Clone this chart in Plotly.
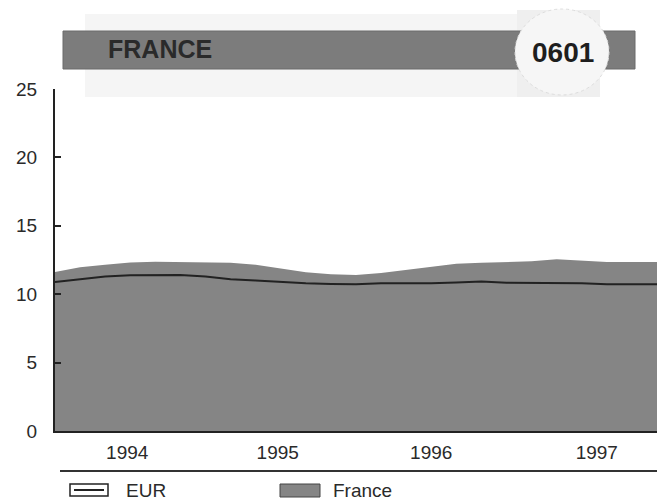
import plotly.graph_objects as go

# Data (bi-monthly readings, 1994-1997)
x_time = [1994 + k / 6 for k in range(25)]
france = [11.62, 11.97, 12.15, 12.32, 12.38, 12.36, 12.34, 12.29, 12.16, 11.88,
          11.60, 11.45, 11.40, 11.55, 11.78, 12.02, 12.22, 12.30, 12.36, 12.40,
          12.55, 12.45, 12.36, 12.35, 12.35]
eur = [10.89, 11.07, 11.30, 11.38, 11.40, 11.40, 11.30, 11.10, 11.01, 10.90,
       10.80, 10.74, 10.72, 10.80, 10.80, 10.80, 10.86, 10.92, 10.84, 10.84,
       10.84, 10.80, 10.72, 10.72, 10.72]
year_labels = ["1994", "1995", "1996", "1997"]
year_pos = [1994.48, 1995.48, 1996.5, 1997.6]
y_ticks = [0, 5, 10, 15, 20, 25]
title_text = "FRANCE"
code_text = "0601"

FILL = "#858585"
DARK = "#222222"
FONT = "Liberation Sans, Arial, sans-serif"

W, H = 657, 502
L, R, T, B = 55, 0, 89, 71
PW, PH = W - L - R, H - T - B


def px(x):
    return (x - L) / PW


def py(y):
    return (H - B - y) / PH


fig = go.Figure()
fig.add_trace(go.Scatter(x=x_time, y=france, mode="lines", fill="tozeroy",
                         line=dict(width=0, color=FILL), fillcolor=FILL,
                         name="France", showlegend=False, hoverinfo="skip"))
fig.add_trace(go.Scatter(x=x_time, y=eur, mode="lines",
                         line=dict(width=2, color=DARK),
                         name="EUR", showlegend=False))

shapes = []
annotations = []

# banner background (faint)
shapes.append(dict(type="rect", xref="paper", yref="paper",
                   x0=px(85), x1=px(520), y0=py(97), y1=py(14),
                   fillcolor="#f5f5f5", line=dict(width=0), layer="below"))
shapes.append(dict(type="rect", xref="paper", yref="paper",
                   x0=px(517), x1=px(600), y0=py(97), y1=py(10),
                   fillcolor="#efefef", line=dict(width=0), layer="below"))
# grey banner
shapes.append(dict(type="rect", xref="paper", yref="paper",
                   x0=px(63), x1=px(635), y0=py(69), y1=py(31),
                   fillcolor="#7c7c7c", line=dict(width=1, color="#6a6a6a")))
# circle
shapes.append(dict(type="circle", xref="paper", yref="paper",
                   x0=px(515), x1=px(609), y0=py(95), y1=py(9),
                   fillcolor="#f6f6f6", line=dict(width=1, color="#dddddd", dash="dot")))
annotations.append(dict(xref="paper", yref="paper", x=px(106), y=py(49),
                        text="<b>" + title_text + "</b>", showarrow=False,
                        xanchor="left", yanchor="middle",
                        font=dict(family=FONT, size=25, color="#2a2a2a")))
annotations.append(dict(xref="paper", yref="paper", x=px(563), y=py(52),
                        text="<b>" + code_text + "</b>", showarrow=False,
                        xanchor="center", yanchor="middle",
                        font=dict(family=FONT, size=28, color="#1e1e1e")))

# separator line below axis
shapes.append(dict(type="line", xref="paper", yref="paper",
                   x0=px(60), x1=px(657), y0=py(471), y1=py(471),
                   line=dict(width=2, color="#333333")))
# legend: EUR
shapes.append(dict(type="rect", xref="paper", yref="paper",
                   x0=px(70), x1=px(108), y0=py(496), y1=py(484),
                   fillcolor="white", line=dict(width=1.5, color="#222222")))
shapes.append(dict(type="line", xref="paper", yref="paper",
                   x0=px(74), x1=px(104), y0=py(490), y1=py(490),
                   line=dict(width=2, color="#222222")))
annotations.append(dict(xref="paper", yref="paper", x=px(124), y=py(490),
                        text="EUR", showarrow=False, xanchor="left", yanchor="middle",
                        font=dict(family=FONT, size=19, color="#2a2a2a")))
# legend: France
shapes.append(dict(type="rect", xref="paper", yref="paper",
                   x0=px(280), x1=px(320), y0=py(497), y1=py(484),
                   fillcolor=FILL, line=dict(width=1, color="#444444")))
annotations.append(dict(xref="paper", yref="paper", x=px(331), y=py(490),
                        text="France", showarrow=False, xanchor="left", yanchor="middle",
                        font=dict(family=FONT, size=19, color="#2a2a2a")))

fig.update_layout(
    width=W, height=H,
    margin=dict(l=L, r=R, t=T, b=B, pad=0),
    paper_bgcolor="white", plot_bgcolor="white",
    showlegend=False,
    shapes=shapes, annotations=annotations,
    xaxis=dict(range=[1994, 1998], tickvals=year_pos, ticktext=year_labels,
               showgrid=False, zeroline=False, showline=True, linecolor="#222222",
               linewidth=2, ticks="", ticklabelstandoff=3,
               tickfont=dict(family=FONT, size=19, color="#2a2a2a")),
    yaxis=dict(range=[0, 25], tickvals=y_ticks, showgrid=False, zeroline=False,
               showline=True, linecolor="#222222", linewidth=2,
               ticks="inside", ticklen=6, tickwidth=2, tickcolor="#222222",
               ticklabelstandoff=12,
               tickfont=dict(family=FONT, size=19, color="#2a2a2a")),
)

fig.write_html("out.html", config={"displayModeBar": False},
               post_script="document.body.style.margin='0';")
